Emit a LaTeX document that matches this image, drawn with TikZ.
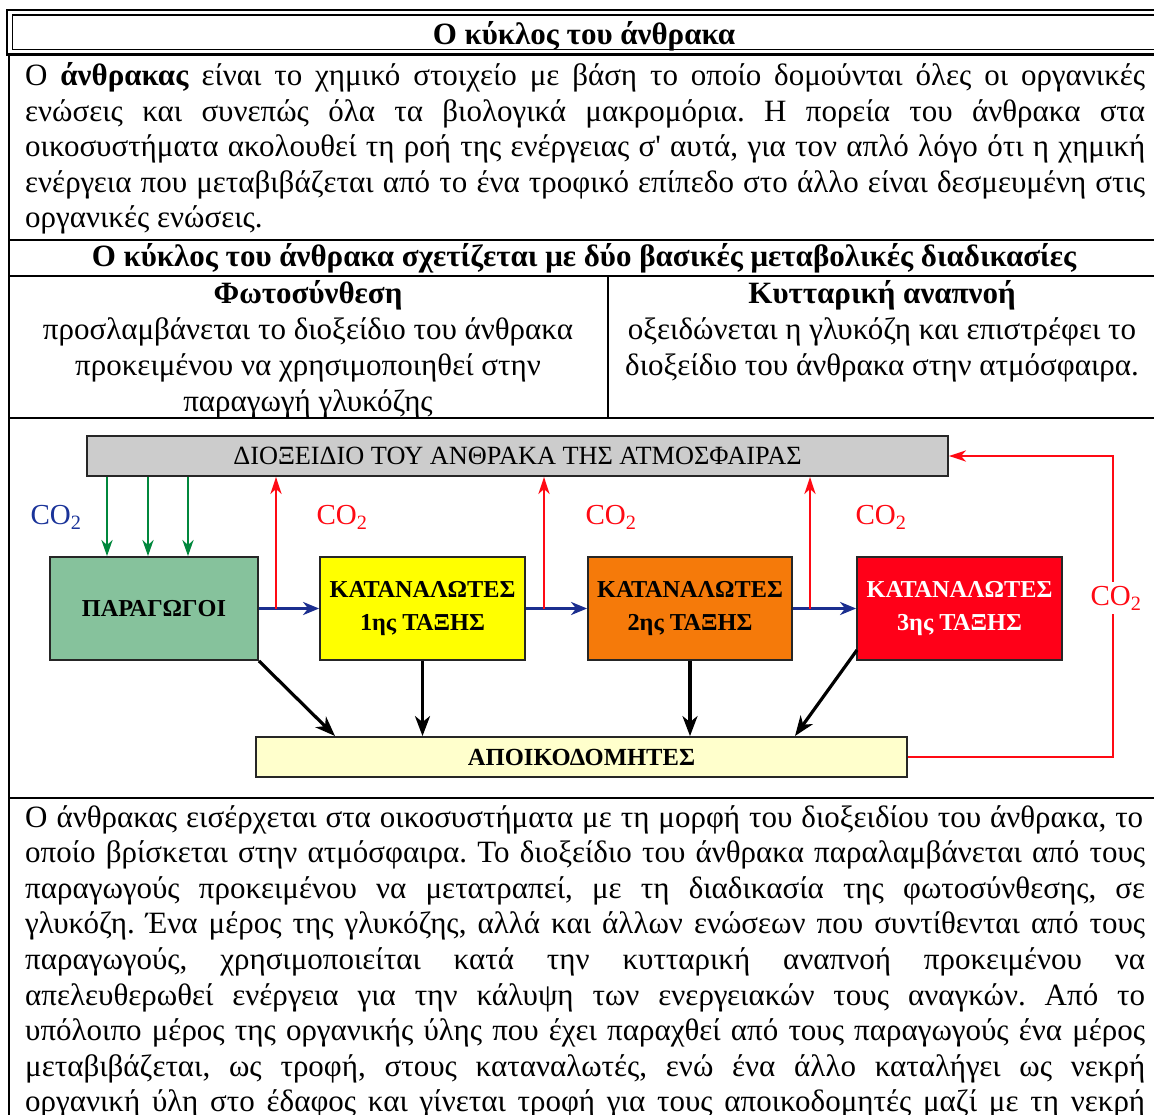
\documentclass[tikz,border=0pt]{standalone}
\usepackage{fontspec}
\setmainfont{Liberation Serif}
\usetikzlibrary{arrows.meta,calc}
\definecolor{cgreenbox}{HTML}{86C29C}
\definecolor{cyellow}{HTML}{FFFF00}
\definecolor{corange}{HTML}{F57A0A}
\definecolor{credbox}{HTML}{FF0018}
\definecolor{cgray}{HTML}{CCCCCC}
\definecolor{cdecomp}{HTML}{FFFFCC}
\definecolor{cgarrow}{HTML}{00873C}
\definecolor{cbarrow}{HTML}{1B2E8F}
\definecolor{crline}{HTML}{FF0A14}
\definecolor{cblue}{HTML}{1A3399}
\begin{document}
\frenchspacing
\begin{tikzpicture}[x=1pt,y=-1pt,
  pline/.style={inner sep=0pt,anchor=base west,font=\fontsize{31}{35.5}\selectfont},
  cline/.style={inner sep=0pt,anchor=base,font=\fontsize{31}{35.5}\selectfont},
  bline/.style={inner sep=0pt,anchor=base,font=\fontsize{31}{35.5}\selectfont\bfseries},
  rule/.style={line width=2pt,black},
  box/.style={draw=black!85,line width=1.8pt,inner sep=0pt,align=center,
    minimum width=205pt,minimum height=103pt,font=\fontsize{24.3}{33}\selectfont\bfseries},
  wbox/.style={draw=black!85,line width=1.8pt,inner sep=0pt,minimum height=40pt},
  co/.style={inner sep=0pt,font=\fontsize{29}{30}\selectfont},
  garrow/.style={draw=cgarrow,line width=2.8pt,-{Stealth[length=16pt,width=11pt,inset=5pt]}},
  rarrow/.style={draw=crline,line width=2.6pt,-{Stealth[length=17pt,width=11pt,inset=5pt]}},
  rline/.style={draw=crline,line width=2.6pt},
  barrow/.style={draw=cbarrow,line width=2.8pt,-{Stealth[length=16pt,width=13pt,inset=5pt]}},
  karrow/.style={draw=black,line width=3.2pt,-{Stealth[length=20pt,width=15pt,inset=6pt]}}
]
\useasboundingbox (0,0) rectangle (1154,1115);
\fill[white] (0,0) rectangle (1154,1115);
\clip (0,0) rectangle (1154,1115);

% ---------- title ----------
\draw[line width=2.6pt] (7,10) rectangle (1170,54.5);
\draw[line width=1.2pt] (12.5,15) rectangle (1170,49.5);
\node[bline] (title) at (584,45) {Ο κύκλος του άνθρακα};

% ---------- table rules ----------
\draw[rule] (9,55) -- (9,1120);
\draw[rule] (9,240) -- (1170,240);
\draw[rule] (9,276) -- (1170,276);
\draw[rule] (9,418) -- (1170,418);
\draw[rule] (9,798) -- (1170,798);
\draw[line width=1.5pt] (608,276) -- (608,418);

% ---------- paragraph 1 ----------
\node[pline] (pa1) at (25,86) {\makebox[1120pt][s]{Ο \textbf{άνθρακας} είναι το χημικό στοιχείο με βάση το οποίο δομούνται όλες οι οργανικές}};
\node[pline] (pa2) at (25,121.5) {\makebox[1120pt][s]{ενώσεις και συνεπώς όλα τα βιολογικά μακρομόρια. Η πορεία του άνθρακα στα}};
\node[pline] (pa3) at (25,157) {\makebox[1120pt][s]{οικοσυστήματα ακολουθεί τη ροή της ενέργειας σ\textquotesingle{} αυτά, για τον απλό λόγο ότι η χημική}};
\node[pline] (pa4) at (25,192.5) {\makebox[1120pt][s]{ενέργεια που μεταβιβάζεται από το ένα τροφικό επίπεδο στο άλλο είναι δεσμευμένη στις}};
\node[pline] (pa5) at (25,228) {οργανικές ενώσεις.};

% ---------- heading 2 ----------
\node[bline] (head2) at (584,267) {Ο κύκλος του άνθρακα σχετίζεται με δύο βασικές μεταβολικές διαδικασίες};

% ---------- columns ----------
\node[bline] (lh) at (308,304) {Φωτοσύνθεση};
\node[cline] (l1) at (308,339.5) {προσλαμβάνεται το διοξείδιο του άνθρακα};
\node[cline] (l2) at (308,375) {προκειμένου να χρησιμοποιηθεί στην};
\node[cline] (l3) at (308,411) {παραγωγή γλυκόζης};
\node[bline] (rh) at (882,304) {Κυτταρική αναπνοή};
\node[cline] (r1t) at (882,339.5) {οξειδώνεται η γλυκόζη και επιστρέφει το};
\node[cline] (r2t) at (882,375) {διοξείδιο του άνθρακα στην ατμόσφαιρα.};

% ---------- diagram ----------
\node[wbox,fill=cgray,minimum width=861pt,font=\fontsize{26.3}{28}\selectfont] (atm) at (517.5,456) {ΔΙΟΞΕΙΔΙΟ ΤΟΥ ΑΝΘΡΑΚΑ ΤΗΣ ΑΤΜΟΣΦΑΙΡΑΣ};
\node[box,fill=cgreenbox,minimum width=208pt] (prod) at (154,608.5) {ΠΑΡΑΓΩΓΟΙ};
\node[box,fill=cyellow] (c1) at (422.5,608.5) {ΚΑΤΑΝΑΛΩΤΕΣ\\1ης ΤΑΞΗΣ};
\node[box,fill=corange,minimum width=204pt] (c2) at (690,608.5) {ΚΑΤΑΝΑΛΩΤΕΣ\\2ης ΤΑΞΗΣ};
\node[box,fill=credbox,text=white] (c3) at (959.5,608.5) {ΚΑΤΑΝΑΛΩΤΕΣ\\3ης ΤΑΞΗΣ};
\node[wbox,fill=cdecomp,minimum width=651pt,font=\fontsize{24.6}{28}\selectfont\bfseries] (dec) at (581.5,757) {ΑΠΟΙΚΟΔΟΜΗΤΕΣ};

% CO2 labels
\node[co,text=cblue] (co0) at (56,517) {CO\textsubscript{2}};
\node[co,text=crline] (co1) at (342,517) {CO\textsubscript{2}};
\node[co,text=crline] (co2) at (611,517) {CO\textsubscript{2}};
\node[co,text=crline] (co3) at (881,517) {CO\textsubscript{2}};
\node[co,text=crline] (co4) at (1116,598) {CO\textsubscript{2}};

% green arrows atmosphere -> producers
\coordinate (gx1) at (107,0);
\coordinate (gx2) at (148,0);
\coordinate (gx3) at (188,0);
\draw[garrow] (atm.south -| gx1) -- (prod.north -| gx1);
\draw[garrow] (atm.south -| gx2) -- (prod.north -| gx2);
\draw[garrow] (atm.south -| gx3) -- (prod.north -| gx3);

% blue arrows (food chain)
\draw[barrow] (prod.east) -- (c1.west);
\draw[barrow] (c1.east) -- (c2.west);
\draw[barrow] (c2.east) -- (c3.west);

% red arrows respiration
\coordinate (rx1) at (276,608.5);
\coordinate (rx2) at (544,608.5);
\coordinate (rx3) at (810,608.5);
\draw[rarrow] (rx1) -- (rx1 |- atm.south);
\draw[rarrow] (rx2) -- (rx2 |- atm.south);
\draw[rarrow] (rx3) -- (rx3 |- atm.south);

% black arrows to decomposers
\coordinate (k1) at (335,736);
\coordinate (k4) at (795,736);
\coordinate (k3s) at (857,650);
\draw[karrow] (prod.south east) -- (k1);
\draw[karrow] (c1.south) -- (c1.south |- dec.north);
\draw[karrow] (c2.south) -- (c2.south |- dec.north);
\draw[karrow] (k3s) -- (k4);

% decomposers -> atmosphere loop
\coordinate (lx) at (1113,0);
\draw[rline] (dec.east) -- (dec.east -| lx) -- ([yshift=-4pt]co4.south -| lx);
\draw[rarrow] ([yshift=4pt]co4.north -| lx) -- (atm.east -| lx) -- (atm.east);

% ---------- bottom paragraph ----------
\node[pline] (pb1) at (25,827) {\makebox[1118pt][s]{Ο άνθρακας εισέρχεται στα οικοσυστήματα με τη μορφή του διοξειδίου του άνθρακα, το}};
\node[pline] (pb2) at (25,862.6) {\makebox[1120pt][s]{οποίο βρίσκεται στην ατμόσφαιρα. Το διοξείδιο του άνθρακα παραλαμβάνεται από τους}};
\node[pline] (pb3) at (25,898.2) {\makebox[1120pt][s]{παραγωγούς προκειμένου να μετατραπεί, με τη διαδικασία της φωτοσύνθεσης, σε}};
\node[pline] (pb4) at (25,933.8) {\makebox[1120pt][s]{γλυκόζη. Ένα μέρος της γλυκόζης, αλλά και άλλων ενώσεων που συντίθενται από τους}};
\node[pline] (pb5) at (25,969.4) {\makebox[1120pt][s]{παραγωγούς, χρησιμοποιείται κατά την κυτταρική αναπνοή προκειμένου να}};
\node[pline] (pb6) at (25,1005) {\makebox[1120pt][s]{απελευθερωθεί ενέργεια για την κάλυψη των ενεργειακών τους αναγκών. Από το}};
\node[pline] (pb7) at (25,1040.6) {\makebox[1120pt][s]{υπόλοιπο μέρος της οργανικής ύλης που έχει παραχθεί από τους παραγωγούς ένα μέρος}};
\node[pline] (pb8) at (25,1076.2) {\makebox[1120pt][s]{μεταβιβάζεται, ως τροφή, στους καταναλωτές, ενώ ένα άλλο καταλήγει ως νεκρή}};
\node[pline] (pb9) at (25,1111.8) {\makebox[1120pt][s]{οργανική ύλη στο έδαφος και γίνεται τροφή για τους αποικοδομητές μαζί με τη νεκρή}};
\end{tikzpicture}
\end{document}
